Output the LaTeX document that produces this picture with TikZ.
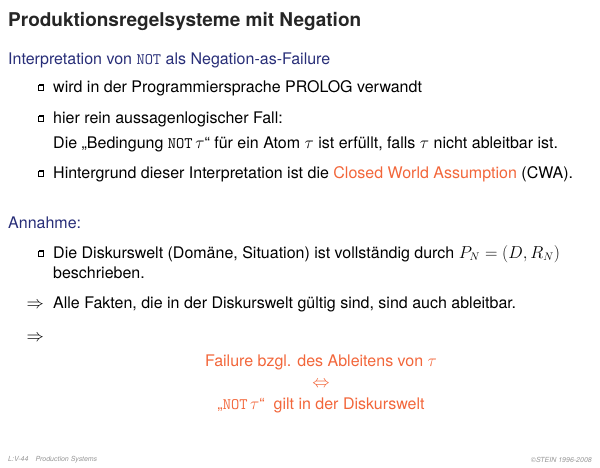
\documentclass[tikz,border=0pt]{standalone}
\usepackage{amsmath}
\usepackage{amssymb}
\usepackage{fontspec}
\setmainfont{TeX Gyre Heros}
\usepackage{tikz}
\usetikzlibrary{positioning}

\definecolor{slideblue}{RGB}{40,46,120}
\definecolor{slideorange}{RGB}{242,102,58}
\definecolor{slidegray}{RGB}{150,150,150}

\tikzset{
    txt/.style={anchor=base west, inner sep=0pt, font=\fontsize{16}{19}\selectfont},
    head/.style={txt, text=slideblue},
    mid/.style={anchor=base, inner sep=0pt, text=slideorange, font=\fontsize{16}{19}\selectfont},
    foot/.style={inner sep=0pt, text=slidegray, font=\fontsize{7}{8}\selectfont\itshape},
    bul/.style={draw, fill=white, line width=0.6pt, minimum size=5pt, inner sep=0pt}
}
\newcommand{\sqbullet}[2]{%
    \fill[black] (#1) ++(0.8,-0.8) +(-2.5,-2.5) rectangle +(2.5,2.5);
    \node[bul] (#2) at (#1) {};}

\begin{document}
\begin{tikzpicture}[x=1pt, y=-1pt]
    \useasboundingbox (0,0) rectangle (600,467);

    \node[anchor=base west, inner sep=0pt, text=black!85, font=\fontsize{19}{22}\selectfont\bfseries] (title) at (8,26) {Produktionsregelsysteme mit Negation};

    \node[head] (interp) at (8,64) {Interpretation von \texttt{NOT} als Negation-as-Failure};

    \node[txt] (b1) at (53,92) {wird in der Programmiersprache PROLOG verwandt};
    \node[txt] (b2) at (53,123) {hier rein aussagenlogischer Fall:};
    \node[txt] (b2x) at (53,148) {Die „Bedingung \texttt{NOT}\,$\tau$“ für ein Atom $\tau$ ist erfüllt, falls $\tau$ nicht ableitbar ist.};
    \node[txt] (b3) at (53,178) {Hintergrund dieser Interpretation ist die \textcolor{slideorange}{Closed World Assumption} (CWA).};

    \node[head] (ann) at (8,228) {Annahme:};

    \node[txt] (b4) at (53,258) {Die Diskurswelt (Domäne, Situation) ist vollständig durch $P_N=(D,R_N)$};
    \node[txt] (b4x) at (53,278) {beschrieben.};

    \node[txt, anchor=base east] (imp1) at (44,308) {$\Rightarrow$};
    \node[txt] (alle) at (53,308) {Alle Fakten, die in der Diskurswelt gültig sind, sind auch ableitbar.};
    \node[txt, anchor=base east] (imp2) at (44,341) {$\Rightarrow$};

    \node[mid] (fail) at (321,366) {Failure bzgl. des Ableitens von $\tau$};
    \node[mid] (equiv) at (321,387) {$\Leftrightarrow$};
    \node[mid] (gilt) at (321,409) {„\texttt{NOT}\,$\tau$“\ \ gilt in der Diskurswelt};

    % bullets
    \sqbullet{41,87.5}{q1}
    \sqbullet{41,118.5}{q2}
    \sqbullet{41,173.5}{q3}
    \sqbullet{41,253.5}{q4}

    \node[foot, anchor=west] (lecture) at (8,460) {L:V-44\quad Production Systems};
    \node[foot, anchor=east] (copy) at (592,460) {©STEIN 1996-2008};
\end{tikzpicture}
\end{document}
